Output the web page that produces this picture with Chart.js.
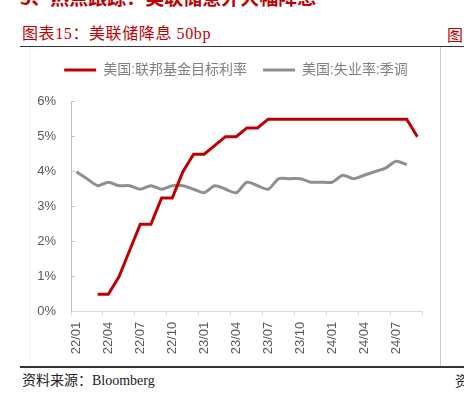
<!DOCTYPE html>
<html>
<head>
<meta charset="utf-8">
<script src="https://cdn.jsdelivr.net/npm/chart.js@4.4.0/dist/chart.umd.min.js"></script>
<style>
  html, body { margin: 0; padding: 0; background: #fff; }
  body { width: 464px; height: 397px; position: relative; overflow: hidden; }
  .txt { position: absolute; white-space: nowrap; }
  #topHead { left: 20px; top: -13px; font: bold 19px/19px "Noto Sans CJK SC"; color: #c00000; }
  #title { left: 22px; top: 25px; font: 16px/18px "Liberation Serif", "Noto Sans CJK SC"; color: #c00000; letter-spacing: 0.6px; }
  #title2 { left: 447px; top: 25px; font: 16px/18px "Noto Sans CJK SC"; color: #c00000; }
  #source { left: 22px; top: 372px; font: 14px/17px "Liberation Serif", "Noto Sans CJK SC"; color: #222; }
  #source2 { left: 455px; top: 372px; font: 14px/17px "Noto Sans CJK SC"; color: #222; }
  .hline { position: absolute; left: 20px; width: 444px; height: 1.5px; background: #333; }
  .vline { position: absolute; width: 1px; }
  #myChart { position: absolute; left: 20px; top: 47px; }
</style>
</head>
<body>
<div class="txt" id="topHead">5、热点跟踪：美联储意外大幅降息</div>
<div class="txt" id="title">图表15：美联储降息 50bp</div>
<div class="txt" id="title2">图</div>
<div class="hline" style="top:45.5px"></div>
<div class="vline" style="left:30px; top:47px; height:319px; background:#f3f3f3"></div>
<div class="vline" style="left:440px; top:47px; height:319px; background:#c8c8c8"></div>
<div class="hline" style="top:366px"></div>
<div class="txt" id="source">资料来源：Bloomberg</div>
<div class="txt" id="source2">资</div>
<canvas id="myChart" width="432" height="320"></canvas>
<script>
// Monthly categories 22/01 .. 24/09
var months = [
  '22/01','22/02','22/03','22/04','22/05','22/06','22/07','22/08','22/09','22/10','22/11','22/12',
  '23/01','23/02','23/03','23/04','23/05','23/06','23/07','23/08','23/09','23/10','23/11','23/12',
  '24/01','24/02','24/03','24/04','24/05','24/06','24/07','24/08','24/09'
];

// 美国:联邦基金目标利率 (%)
var fedRate = [
  null, null, 0.5, 0.5, 1.0, 1.75, 2.5, 2.5, 3.25, 3.25, 4.0, 4.5,
  4.5, 4.75, 5.0, 5.0, 5.25, 5.25, 5.5, 5.5, 5.5, 5.5, 5.5, 5.5,
  5.5, 5.5, 5.5, 5.5, 5.5, 5.5, 5.5, 5.5, 5.0
];

// 美国:失业率:季调 (%)
var jobless = [
  4.0, 3.8, 3.6, 3.7, 3.6, 3.6, 3.5, 3.6, 3.5, 3.6, 3.6, 3.5,
  3.4, 3.6, 3.5, 3.4, 3.7, 3.6, 3.5, 3.8, 3.8, 3.8, 3.7, 3.7,
  3.7, 3.9, 3.8, 3.9, 4.0, 4.1, 4.3, 4.2, null
];

var seriesNames = ['美国:联邦基金目标利率', '美国:失业率:季调'];
var seriesColors = ['#c00000', '#8f8f8f'];
var yTicks = [0, 1, 2, 3, 4, 5, 6];

//Legend: push chart area down and centre the items on the whole canvas
var legendGap = {
  id: 'legendGap',
  beforeLayout: function(chart){
    var lg = chart.legend;
    if (lg && !lg._patched) {
      var fit = lg.fit;
      lg.fit = function(){
        fit.call(this);
        this.height = 54.7;
      };
      lg._patched = true;
    }
  },
  afterLayout: function(chart){
    chart.legend.left = 0;
    chart.legend.right = chart.width;
  }
};

var ctx = document.getElementById('myChart');
var myChart = new Chart(ctx, {
  type: 'line',
  data: {
    labels: months,
    datasets: [{
      label: seriesNames[0],
      data: fedRate,
      borderColor: seriesColors[0],
      backgroundColor: seriesColors[0],
      borderWidth: 3,
      pointRadius: 0,
      tension: 0,
      borderJoinStyle: 'miter'
    }, {
      label: seriesNames[1],
      data: jobless,
      borderColor: seriesColors[1],
      backgroundColor: seriesColors[1],
      borderWidth: 3,
      pointRadius: 0,
      tension: 0.25,
      borderJoinStyle: 'round'
    }]
  },
  options: {
    responsive: false,
    animation: false,
    layout: { padding: { left: 0, right: 29.3, top: 0, bottom: 0 } },
    plugins: {
      tooltip: { enabled: false },
      legend: {
        position: 'top',
        labels: {
          boxWidth: 32,
          boxHeight: 3,
          padding: 16,
          color: '#808080',
          font: { family: '"Liberation Sans", "Noto Sans CJK SC"', size: 14 },
          generateLabels: function(chart){
            var items = Chart.defaults.plugins.legend.labels.generateLabels(chart);
            items.forEach(function(it){ it.lineWidth = 0; });
            return items;
          }
        }
      }
    },
    scales: {
      x: {
        offset: true,
        grid: {
          offset: true,
          drawOnChartArea: false,
          tickLength: 4,
          color: function(c){
            if (c.index === undefined) return '#d9d9d9';
            return c.index % 3 === 0 ? '#d9d9d9' : 'rgba(0,0,0,0)';
          }
        },
        border: { color: '#d9d9d9', width: 1 },
        ticks: {
          autoSkip: false,
          maxRotation: 90,
          minRotation: 90,
          padding: 6,
          color: '#595959',
          font: { family: '"Liberation Sans"', size: 13 },
          callback: function(v, i){ return i % 3 === 0 ? months[i] : ''; }
        },
        afterFit: function(scale){ scale.height = 55.3; }
      },
      y: {
        min: 0,
        max: 6,
        afterBuildTicks: function(scale){
          scale.ticks = yTicks.map(function(v){ return { value: v }; });
        },
        grid: {
          drawOnChartArea: false,
          tickLength: -4,
          color: '#bfbfbf'
        },
        border: { color: '#bfbfbf', width: 1 },
        ticks: {
          padding: 19,
          color: '#595959',
          font: { family: '"Liberation Sans"', size: 13 },
          callback: function(v){ return v + '%'; }
        },
        afterFit: function(scale){ scale.width = 51; }
      }
    }
  },
  plugins: [legendGap]
});
</script>
</body>
</html>
